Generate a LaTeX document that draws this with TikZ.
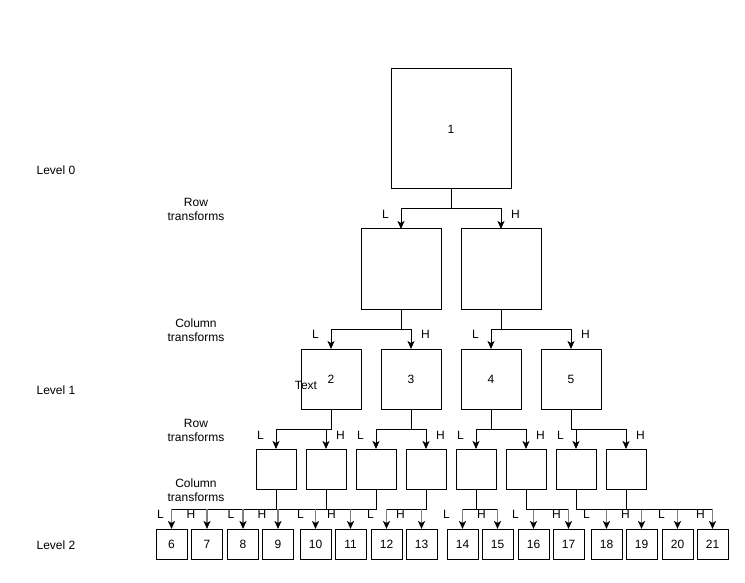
\documentclass[tikz,border=0pt]{standalone}
\usepackage{fontspec}
\setmainfont{Liberation Sans}
\usetikzlibrary{arrows.meta,calc}
\begin{document}
\begin{tikzpicture}[x=1pt, y=-1pt,
    font=\fontsize{12}{14}\selectfont,
    box/.style={draw, line width=1pt, outer sep=0pt, inner sep=0pt},
    arr/.style={line width=1pt, -{Stealth[length=8pt, width=7pt, inset=2pt]}},
    shaft/.style={draw=gray, line width=1.5pt, -{Stealth[length=8pt, width=7pt, inset=2pt, color=black]}}]
    \useasboundingbox (0, 0) rectangle (745, 583);

    \node (level0) at (56, 170) {Level 0};
    \node[align=center] (row0) at (196, 209) {Row\\transforms};
    \node[align=center] (col0) at (196, 330) {Column\\transforms};
    \node (level1) at (56, 390) {Level 1};
    \node[align=center] (row1) at (196, 430) {Row\\transforms};
    \node[align=center] (col1) at (196, 490) {Column\\transforms};
    \node (level2) at (56, 545) {Level 2};

    \node[box, minimum size=120pt] (n1) at (451, 129) {1};
    \node[box, minimum size=80pt] (n1_l) at (401, 269) {};
    \node[box, minimum size=80pt] (n1_h) at (501, 269) {};

    \node[box, minimum size=60pt] (n2) at (331, 379) {2};
    \node[box, minimum size=60pt] (n3) at (411, 379) {3};
    \node[box, minimum size=60pt] (n4) at (491, 379) {4};
    \node[box, minimum size=60pt] (n5) at (571, 379) {5};
    \node (text) at (306, 385) {Text};

    \node[box, minimum size=40pt] (n2_l) at (276, 469) {};
    \node[box, minimum size=40pt] (n2_h) at (326, 469) {};
    \node[box, minimum size=40pt] (n3_l) at (376, 469) {};
    \node[box, minimum size=40pt] (n3_h) at (426, 469) {};
    \node[box, minimum size=40pt] (n4_l) at (476, 469) {};
    \node[box, minimum size=40pt] (n4_h) at (526, 469) {};
    \node[box, minimum size=40pt] (n5_l) at (576, 469) {};
    \node[box, minimum size=40pt] (n5_h) at (626, 469) {};

    \node[box, minimum width=31pt, minimum height=30pt] (n6) at (171.5, 544) {6};
    \node[box, minimum width=31pt, minimum height=30pt] (n7) at (207, 544) {7};
    \node[box, minimum width=31pt, minimum height=30pt] (n8) at (243, 544) {8};
    \node[box, minimum width=31pt, minimum height=30pt] (n9) at (278, 544) {9};
    \node[box, minimum width=31pt, minimum height=30pt] (n10) at (315.5, 544) {10};
    \node[box, minimum width=31pt, minimum height=30pt] (n11) at (350.5, 544) {11};
    \node[box, minimum width=31pt, minimum height=30pt] (n12) at (386.5, 544) {12};
    \node[box, minimum width=31pt, minimum height=30pt] (n13) at (421.5, 544) {13};
    \node[box, minimum width=31pt, minimum height=30pt] (n14) at (462.5, 544) {14};
    \node[box, minimum width=31pt, minimum height=30pt] (n15) at (497.5, 544) {15};
    \node[box, minimum width=31pt, minimum height=30pt] (n16) at (533.5, 544) {16};
    \node[box, minimum width=31pt, minimum height=30pt] (n17) at (568.5, 544) {17};
    \node[box, minimum width=31pt, minimum height=30pt] (n18) at (606.5, 544) {18};
    \node[box, minimum width=31pt, minimum height=30pt] (n19) at (641.5, 544) {19};
    \node[box, minimum width=31pt, minimum height=30pt] (n20) at (677.5, 544) {20};
    \node[box, minimum width=31pt, minimum height=30pt] (n21) at (712.5, 544) {21};

    \draw[arr] (n1.south) -- ++(0, 20) -| (n1_l.north) node[pos=0.625, xshift=-15.5pt] {L};
    \draw[arr] (n1.south) -- ++(0, 20) -| (n1_h.north) node[pos=0.625, xshift=14.5pt] {H};

    \draw[arr] (n1_l.south) -- ++(0, 20) -| (n2.north) node[pos=0.625, xshift=-15.5pt] {L};
    \draw[arr] (n1_l.south) -- ++(0, 20) -| (n3.north) node[pos=0.625, xshift=14.5pt] {H};
    \draw[arr] (n1_h.south) -- ++(0, 20) -| (n4.north) node[pos=0.625, xshift=-15.5pt] {L};
    \draw[arr] (n1_h.south) -- ++(0, 20) -| (n5.north) node[pos=0.625, xshift=14.5pt] {H};

    \draw[arr] (n2.south) -- ++(0, 20) -| (n2_l.north) node[pos=0.65, xshift=-15.5pt] {L};
    \draw[arr] (n2.south) -- ++(0, 20) -| (n2_h.north) node[pos=0.65, xshift=14.5pt] {H};
    \draw[arr] (n3.south) -- ++(0, 20) -| (n3_l.north) node[pos=0.65, xshift=-15.5pt] {L};
    \draw[arr] (n3.south) -- ++(0, 20) -| (n3_h.north) node[pos=0.65, xshift=14.5pt] {H};
    \draw[arr] (n4.south) -- ++(0, 20) -| (n4_l.north) node[pos=0.65, xshift=-15.5pt] {L};
    \draw[arr] (n4.south) -- ++(0, 20) -| (n4_h.north) node[pos=0.65, xshift=14.5pt] {H};
    \draw[arr] (n5.south) -- ++(0, 20) -| (n5_l.north) node[pos=0.65, xshift=-15.5pt] {L};
    \draw[arr] (n5.south) -- ++(0, 20) -| (n5_h.north) node[pos=0.65, xshift=14.5pt] {H};

    \draw[line width=1pt] (n2_l.south) |- ($(n6.north) + (0, -20)$) edge[shaft] node[pos=0.25, xshift=-11pt] {L} (n6.north);
    \draw[line width=1pt] (n2_l.south) |- ($(n7.north) + (0, -20)$) edge[shaft] node[pos=0.25, xshift=-16pt] {H} (n7.north);
    \draw[line width=1pt] (n2_h.south) |- ($(n8.north) + (0, -20)$) edge[shaft] node[pos=0.25, xshift=-12pt] {L} (n8.north);
    \draw[line width=1pt] (n2_h.south) |- ($(n9.north) + (0, -20)$) edge[shaft] node[pos=0.25, xshift=-16pt] {H} (n9.north);
    \draw[line width=1pt] (n3_l.south) |- ($(n10.north) + (0, -20)$) edge[shaft] node[pos=0.25, xshift=-15pt] {L} (n10.north);
    \draw[line width=1pt] (n3_l.south) |- ($(n11.north) + (0, -20)$) edge[shaft] node[pos=0.25, xshift=-19pt] {H} (n11.north);
    \draw[line width=1pt] (n3_h.south) |- ($(n12.north) + (0, -20)$) edge[shaft] node[pos=0.25, xshift=-16pt] {L} (n12.north);
    \draw[line width=1pt] (n3_h.south) |- ($(n13.north) + (0, -20)$) edge[shaft] node[pos=0.25, xshift=-21pt] {H} (n13.north);
    \draw[line width=1pt] (n4_l.south) |- ($(n14.north) + (0, -20)$) edge[shaft] node[pos=0.25, xshift=-16pt] {L} (n14.north);
    \draw[line width=1pt] (n4_l.south) |- ($(n15.north) + (0, -20)$) edge[shaft] node[pos=0.25, xshift=-16pt] {H} (n15.north);
    \draw[line width=1pt] (n4_h.south) |- ($(n16.north) + (0, -20)$) edge[shaft] node[pos=0.25, xshift=-18pt] {L} (n16.north);
    \draw[line width=1pt] (n4_h.south) |- ($(n17.north) + (0, -20)$) edge[shaft] node[pos=0.25, xshift=-12pt] {H} (n17.north);
    \draw[line width=1pt] (n5_l.south) |- ($(n18.north) + (0, -20)$) edge[shaft] node[pos=0.25, xshift=-20pt] {L} (n18.north);
    \draw[line width=1pt] (n5_l.south) |- ($(n19.north) + (0, -20)$) edge[shaft] node[pos=0.25, xshift=-16pt] {H} (n19.north);
    \draw[line width=1pt] (n5_h.south) |- ($(n20.north) + (0, -20)$) edge[shaft] node[pos=0.25, xshift=-16pt] {L} (n20.north);
    \draw[line width=1pt] (n5_h.south) |- ($(n21.north) + (0, -20)$) edge[shaft] node[pos=0.25, xshift=-12pt] {H} (n21.north);
\end{tikzpicture}
\end{document}
